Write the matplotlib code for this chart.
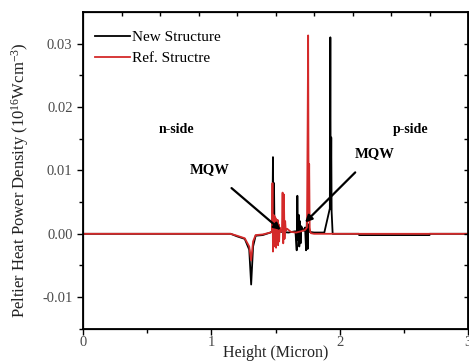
import numpy as np
import matplotlib.pyplot as plt

plt.rcParams['font.family'] = ['Liberation Serif', 'DejaVu Serif']

# Peltier heat power density along the device height (10^16 W cm^-3)
x_new = [0.00, 1.15, 1.20, 1.26, 1.295, 1.31, 1.325, 1.345, 1.40, 1.46,
         1.475, 1.480, 1.484, 1.488, 1.492, 1.497, 1.505, 1.52, 1.55, 1.60,
         1.655, 1.665, 1.670, 1.675, 1.680, 1.685, 1.690, 1.695, 1.700, 1.710,
         1.720, 1.730, 1.738, 1.744, 1.750, 1.756, 1.765, 1.80, 1.88, 1.923,
         1.927, 1.930, 1.934, 1.937, 1.945, 1.96, 2.15, 2.151, 2.70, 2.701, 3.00]
y_new = [0.0, 0.0, -0.0004, -0.0008, -0.0025, -0.0080, -0.0020, -0.0003, -0.0002, 0.0002,
         0.0004, 0.0121, 0.0002, 0.0080, 0.0003, 0.0005, 0.0002, 0.0004, 0.0003, 0.0002,
         0.0004, -0.0026, 0.0060, -0.0010, 0.0030, -0.0020, 0.0020, -0.0015, 0.0012, 0.0008,
         0.0005, 0.0010, -0.0026, 0.0020, -0.0024, 0.0015, 0.0003, 0.0002, 0.0002, 0.0040,
         0.0310, 0.0040, 0.0152, 0.0035, 0.0000, 0.0, 0.0, -0.0002, -0.0002, 0.0, 0.0]

x_ref = [0.00, 1.15, 1.20, 1.26, 1.295, 1.31, 1.325, 1.345, 1.40, 1.46,
         1.472, 1.476, 1.480, 1.484, 1.488, 1.492, 1.496, 1.500, 1.504, 1.508,
         1.512, 1.516, 1.520, 1.524, 1.528, 1.532, 1.540, 1.550, 1.555, 1.560,
         1.565, 1.570, 1.575, 1.580, 1.590, 1.620, 1.660, 1.700, 1.730, 1.745,
         1.750, 1.754, 1.758, 1.762, 1.766, 1.770, 1.775, 1.80, 3.00]
y_ref = [0.0, 0.0, -0.0003, -0.0007, -0.0020, -0.0042, -0.0012, -0.0002, -0.0001, 0.0002,
         0.0003, 0.0080, -0.0028, 0.0030, -0.0020, 0.0028, -0.0015, 0.0025, -0.0022, 0.0018,
         -0.0010, 0.0022, -0.0018, 0.0015, -0.0012, 0.0010, 0.0003, 0.0005, 0.0065, -0.0015,
         0.0062, -0.0008, 0.0020, 0.0005, 0.0008, 0.0003, 0.0002, 0.0004, 0.0006, 0.0010,
         0.0170, 0.0313, 0.0020, 0.0110, 0.0010, 0.0004, 0.0001, 0.0, 0.0]

fig = plt.figure(figsize=(4.69, 3.63), dpi=100)
ax = fig.add_axes([0.177, 0.094, 0.821, 0.873])

ax.plot(x_new, y_new, color='black', lw=1.3, label='New Structure')
ax.plot(x_ref, y_ref, color='#d42a2a', lw=1.3, label='Ref. Structre')

ax.set_xlim(0, 3)
ax.set_ylim(-0.015, 0.035)
ax.set_xticks([0, 1, 2, 3])
ax.set_xticks([0.5, 1.5, 2.5], minor=True)
ax.set_yticks([-0.01, 0.0, 0.01, 0.02, 0.03])
ax.set_yticklabels(['-0.01', '0.00', '0.01', '0.02', '0.03'])
ax.set_yticks(np.arange(-0.015, 0.035, 0.005), minor=True)
ax.tick_params(which='both', direction='out', labelsize=10.5, width=1.0,
               labelcolor='#4a4a4a')
ax.tick_params(which='major', length=4)
ax.tick_params(which='minor', length=3)
ax.tick_params(axis='x', pad=1)
for s in ax.spines.values():
    s.set_linewidth(1.3)

# inward ticks on the top and right frame
top = ax.twiny()
top.set_xlim(0, 3)
top.set_xticks(np.arange(0.3, 3.0, 0.3))
top.tick_params(direction='in', length=3, labeltop=False, width=1.0)
right = ax.twinx()
right.set_ylim(-0.015, 0.035)
right.set_yticks(np.arange(-0.01, 0.035, 0.005))
right.tick_params(direction='in', length=3, labelright=False, width=1.0)

ax.set_xlabel('Height (Micron)', fontsize=11.5, labelpad=-3, color='#222222')
ax.set_ylabel(r'Peltier Heat Power Density ($\mathregular{10^{16}Wcm^{-3}}$)',
              fontsize=12, color='#222222')
ax.yaxis.set_label_coords(-0.135, 0.47)

ax.text(0.73, 0.0165, 'n-side', fontsize=10, fontweight='bold', ha='center', va='center')
ax.text(2.55, 0.0165, 'p-side', fontsize=10, fontweight='bold', ha='center', va='center')
ax.annotate('MQW', xy=(1.54, 0.0006), xytext=(0.99, 0.0101), fontsize=10.5,
            fontweight='bold', ha='center', va='center',
            arrowprops=dict(arrowstyle='-|>', color='black', lw=1.6,
                            mutation_scale=10, shrinkA=10, shrinkB=0))
ax.annotate('MQW', xy=(1.73, 0.0018), xytext=(2.27, 0.0127), fontsize=10.5,
            fontweight='bold', ha='center', va='center',
            arrowprops=dict(arrowstyle='-|>', color='black', lw=1.6,
                            mutation_scale=10, shrinkA=10, shrinkB=0))

ax.legend(loc='upper left', bbox_to_anchor=(0.015, 0.96), frameon=False,
          fontsize=11, handlelength=2.3, handletextpad=0.1, borderaxespad=0,
          labelspacing=0.45)

fig.savefig('out.png', dpi=100)
